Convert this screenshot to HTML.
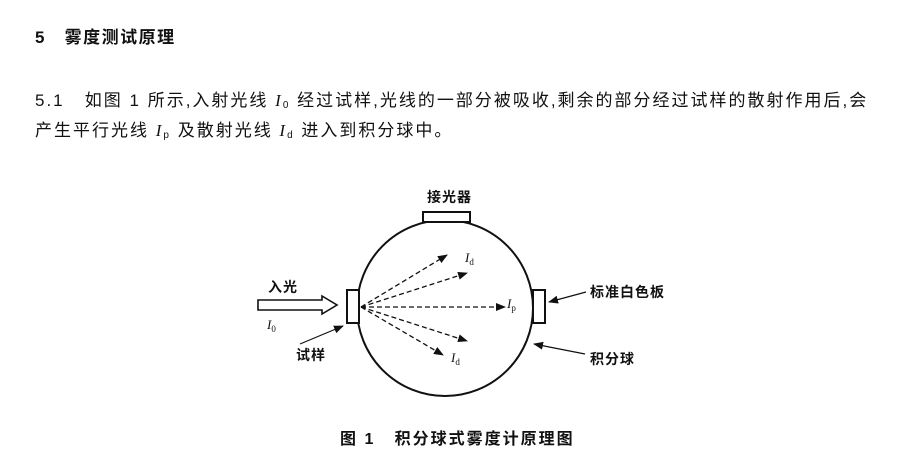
<!DOCTYPE html>
<html><head><meta charset="utf-8"><style>
body{margin:0;width:901px;height:464px;background:#fff;position:relative;font-family:"Liberation Serif","Noto Serif CJK SC",serif;color:#111;overflow:hidden}
.t{position:absolute;white-space:nowrap}
.b{font-family:"Liberation Sans","Noto Sans CJK SC",sans-serif;font-weight:bold}
i{font-style:italic}
sub{font-size:10px;vertical-align:-2px}
</style></head><body>
<div class="t b" style="left:35px;top:23px;font-size:17px;letter-spacing:1.5px">5&nbsp;&nbsp; 雾度测试原理</div>
<div class="t" style="left:35px;top:86px;font-size:17px;letter-spacing:2px;font-family:'Liberation Sans','Noto Sans CJK SC',sans-serif">5.1&nbsp;&nbsp; 如图 1 所示,入射光线 <i style="font-family:'Liberation Serif'">I</i><sub>0</sub> 经过试样,光线的一部分被吸收,剩余的部分经过试样的散射作用后,会</div>
<div class="t" style="left:35px;top:116px;font-size:17px;letter-spacing:2px;font-family:'Liberation Sans','Noto Sans CJK SC',sans-serif">产生平行光线 <i style="font-family:'Liberation Serif'">I</i><sub>p</sub> 及散射光线 <i style="font-family:'Liberation Serif'">I</i><sub>d</sub> 进入到积分球中。</div>
<svg width="901" height="464" style="position:absolute;left:0;top:0" font-family="Liberation Sans,Noto Sans CJK SC,sans-serif">
<defs><marker id="a" markerWidth="10" markerHeight="8" refX="9" refY="4" orient="auto" markerUnits="userSpaceOnUse"><path d="M0,0 L10,4 L0,8 Z" fill="#111"/></marker></defs>
<circle cx="445" cy="308" r="88" fill="none" stroke="#111" stroke-width="2"/>
<rect x="423" y="212" width="47" height="10" fill="#fff" stroke="#111" stroke-width="2"/>
<rect x="347" y="290" width="12" height="33" fill="#fff" stroke="#111" stroke-width="2"/>
<rect x="533" y="290" width="12" height="33" fill="#fff" stroke="#111" stroke-width="2"/>
<path d="M258,300 L322,300 L322,296 L337,305 L322,314 L322,310 L258,310 Z" fill="#fff" stroke="#111" stroke-width="1.6"/>
<g stroke="#111" stroke-width="1.3" stroke-dasharray="5,3" fill="none" marker-end="url(#a)">
<line x1="361" y1="307" x2="447" y2="255"/>
<line x1="361" y1="307" x2="467" y2="273"/>
<line x1="361" y1="307" x2="505" y2="307"/>
<line x1="361" y1="307" x2="467" y2="341"/>
<line x1="361" y1="307" x2="443" y2="355"/>
</g>
<g stroke="#111" stroke-width="1.2" marker-end="url(#a)">
<line x1="300" y1="344" x2="343" y2="326"/>
<line x1="586" y1="292" x2="549" y2="302"/>
<line x1="585" y1="354" x2="534" y2="344"/>
</g>
<g font-size="14" font-weight="bold" fill="#111" letter-spacing="1">
<text x="427" y="202">接光器</text>
<text x="268" y="292">入光</text>
<text x="296" y="360">试样</text>
<text x="590" y="297">标准白色板</text>
<text x="590" y="364">积分球</text>
</g>
<g font-family="Liberation Serif,serif" font-size="13" fill="#111">
<text x="465" y="262"><tspan font-style="italic">I</tspan><tspan font-size="9" dy="3">d</tspan></text>
<text x="507" y="308"><tspan font-style="italic">I</tspan><tspan font-size="9" dy="3">p</tspan></text>
<text x="451" y="362"><tspan font-style="italic">I</tspan><tspan font-size="9" dy="3">d</tspan></text>
<text x="267" y="329"><tspan font-style="italic">I</tspan><tspan font-size="9" dy="3">0</tspan></text>
</g>
<text x="340" y="444" font-size="16" font-weight="bold" fill="#111" letter-spacing="2">图 1&#160;&#160; 积分球式雾度计原理图</text>
</svg>
</body></html>
